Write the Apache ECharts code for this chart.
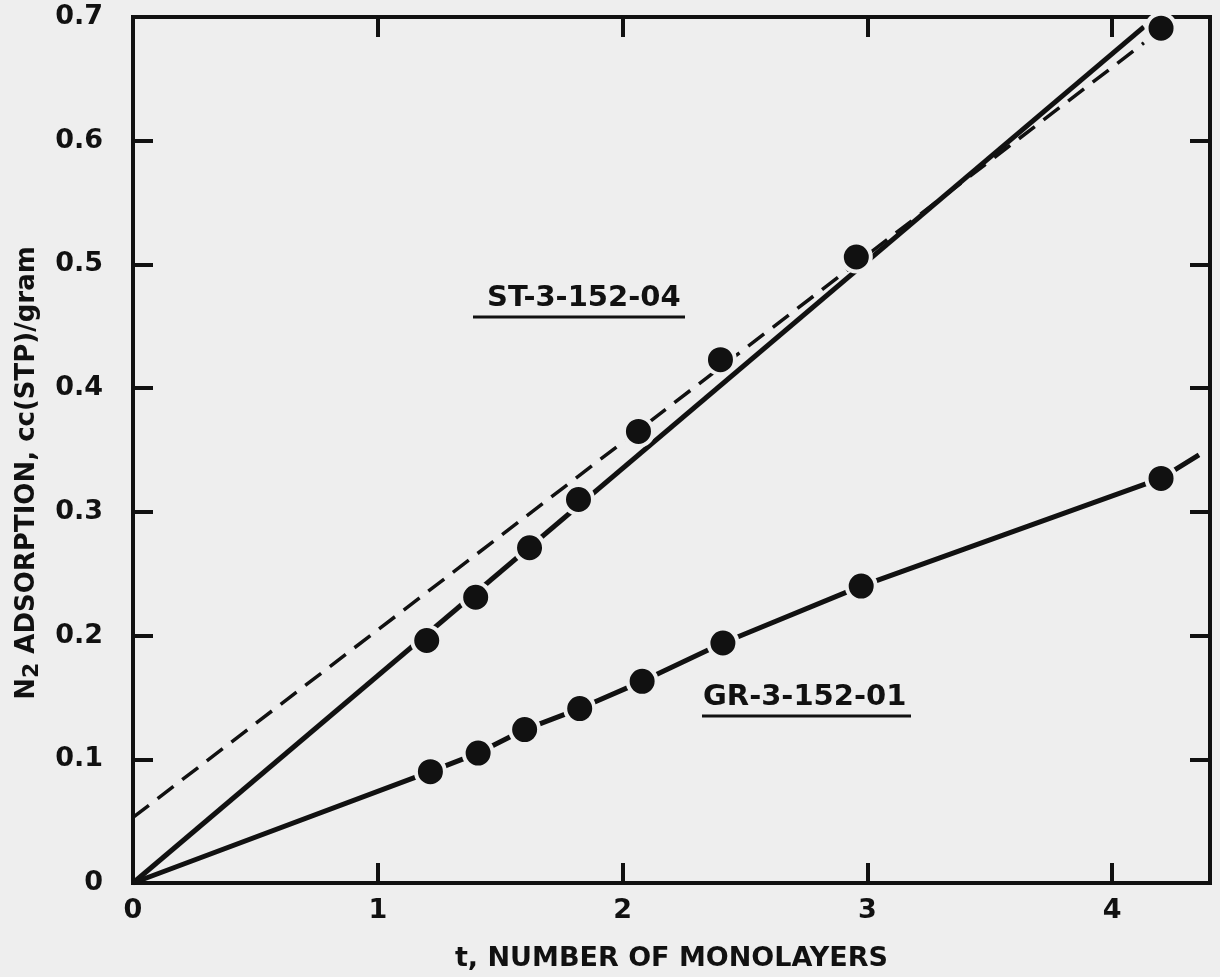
<!DOCTYPE html>
<html><head><meta charset="utf-8">
<script src="https://cdn.jsdelivr.net/npm/echarts@6/dist/echarts.min.js"></script>
<style>html,body{margin:0;padding:0;background:#eeeeee}#c{width:1220px;height:977px}</style>
</head><body><div id="c"></div>
<script>
// ---- data ----
const xTicks = [0, 1, 2, 3, 4];
const yTicks = [0, 0.1, 0.2, 0.3, 0.4, 0.5, 0.6, 0.7];
// ST-3-152-04 measured points
const stT  = [1.20, 1.40, 1.62, 1.82, 2.065, 2.40, 2.955, 4.20];
const stN2 = [0.196, 0.231, 0.271, 0.310, 0.365, 0.423, 0.506, 0.691];
// GR-3-152-01 measured points
const grT  = [1.215, 1.41, 1.60, 1.825, 2.08, 2.41, 2.975, 4.20];
const grN2 = [0.090, 0.105, 0.124, 0.141, 0.163, 0.194, 0.240, 0.327];
// straight reference lines for ST (solid through origin, dashed offset)
const stSolidT = [0, 4.13];
const stSolidN2 = [0, 0.692];
const stDashT = [0, 4.13];
const stDashN2 = [0.053, 0.679];
// GR curve start (origin) and end of extension beyond last point
const grStart = [0, 0];
const grEnd = [4.355, 0.346];

const INK = '#111111';
const BG = '#eeeeee';
const FONT = 'DejaVu Sans';

const pairs = (xs, ys) => xs.map((x, i) => [x, ys[i]]);
const grLineData = [{value: grStart, symbol: 'none'}]
  .concat(pairs(grT, grN2).map(p => ({value: p})))
  .concat([{value: grEnd, symbol: 'none'}]);

const chart = echarts.init(document.getElementById('c'), null, {renderer: 'canvas'});
const axisCommon = {
  type: 'value',
  axisLine: {show: true, onZero: false, lineStyle: {color: INK, width: 4}},
  axisTick: {show: true, inside: true, length: 20, lineStyle: {color: INK, width: 4}},
  splitLine: {show: false}
};
chart.setOption({
  animation: false,
  backgroundColor: BG,
  grid: {left: 133, right: 10, top: 17, bottom: 94, show: true, borderColor: INK, borderWidth: 4, backgroundColor: 'transparent'},
  xAxis: [
    Object.assign({}, axisCommon, {
      position: 'bottom', min: xTicks[0], max: 4.4, interval: 1,
      axisLabel: {formatter: v => xTicks.indexOf(v) >= 0 ? String(v) : '', fontSize: 27, fontWeight: 'bold', fontFamily: FONT, color: INK, margin: 14},
      name: 't, NUMBER OF MONOLAYERS', nameLocation: 'middle', nameGap: 62,
      nameTextStyle: {fontSize: 27, fontWeight: 'bold', fontFamily: FONT, color: INK}
    }),
    Object.assign({}, axisCommon, {
      position: 'top', min: xTicks[0], max: 4.4, interval: 1,
      axisLabel: {show: false}
    })
  ],
  yAxis: [
    Object.assign({}, axisCommon, {
      position: 'left', min: yTicks[0], max: yTicks[yTicks.length - 1], interval: 0.1,
      axisLabel: {formatter: v => v === 0 ? '0' : v.toFixed(1), fontSize: 27, fontWeight: 'bold', fontFamily: FONT, color: INK, margin: 30}
    }),
    Object.assign({}, axisCommon, {
      position: 'right', min: yTicks[0], max: yTicks[yTicks.length - 1], interval: 0.1,
      axisLabel: {show: false}
    })
  ],
  series: [
    {type: 'line', name: 'ST fit', data: pairs(stSolidT, stSolidN2), symbol: 'none',
     lineStyle: {color: INK, width: 5}, z: 2},
    {type: 'line', name: 'ST dashed', data: pairs(stDashT, stDashN2), symbol: 'none',
     lineStyle: {color: INK, width: 3.5, type: [20, 11]}, z: 2},
    {type: 'line', name: 'GR-3-152-01', data: grLineData, symbol: 'circle', symbolSize: 29,
     lineStyle: {color: INK, width: 5}, itemStyle: {color: INK, borderColor: BG, borderWidth: 4}, z: 3},
    {type: 'scatter', name: 'ST-3-152-04', data: pairs(stT, stN2), symbol: 'circle', symbolSize: 29,
     itemStyle: {color: INK, borderColor: BG, borderWidth: 4, opacity: 1}, z: 4}
  ],
  graphic: [
    {type: 'text', x: 27, y: 473, rotation: Math.PI / 2,
     style: {text: '{n|N}{s|2}{n| ADSORPTION, cc(STP)/gram}', align: 'center', verticalAlign: 'middle',
       rich: {n: {fontSize: 26, fontWeight: 'bold', fontFamily: FONT, fill: INK, lineHeight: 32, verticalAlign: 'middle'},
              s: {fontSize: 22, fontWeight: 'bold', fontFamily: FONT, fill: INK, lineHeight: 32, verticalAlign: 'bottom'}}}},
    {type: 'text', x: 487, y: 298, style: {text: 'ST-3-152-04', fontSize: 29, fontWeight: 'bold', fontFamily: FONT, fill: INK, verticalAlign: 'middle', align: 'left'}},
    {type: 'line', shape: {x1: 473, y1: 317, x2: 685, y2: 317}, style: {stroke: INK, lineWidth: 3}},
    {type: 'text', x: 703, y: 697, style: {text: 'GR-3-152-01', fontSize: 29, fontWeight: 'bold', fontFamily: FONT, fill: INK, verticalAlign: 'middle', align: 'left'}},
    {type: 'line', shape: {x1: 702, y1: 716, x2: 911, y2: 716}, style: {stroke: INK, lineWidth: 3}}
  ]
});
</script></body></html>
